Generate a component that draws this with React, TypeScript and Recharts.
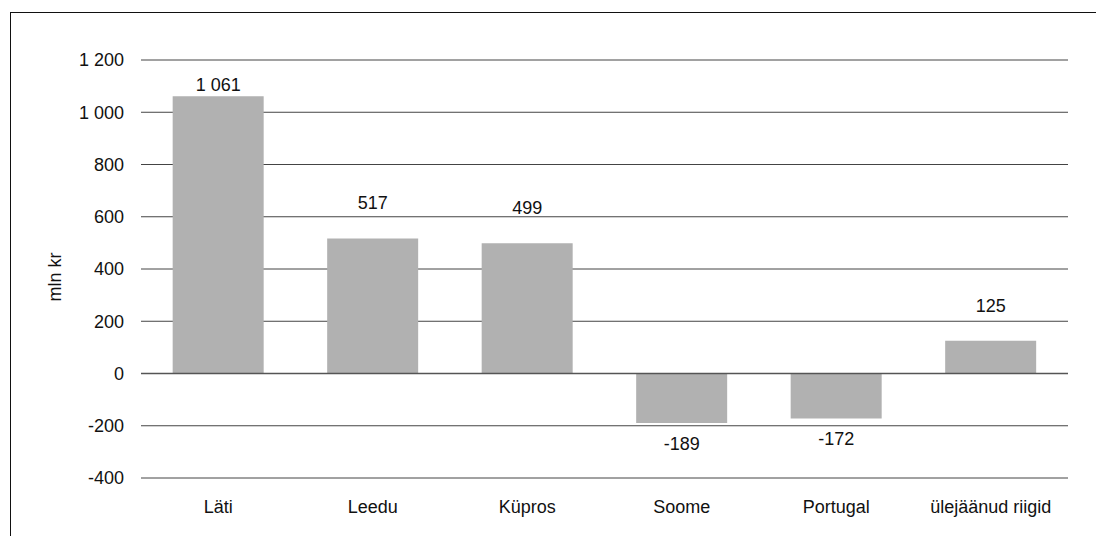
import React from 'react';
import { BarChart, Bar, XAxis, YAxis, CartesianGrid, ReferenceLine, LabelList } from 'recharts';

const countries = ['Läti', 'Leedu', 'Küpros', 'Soome', 'Portugal', 'ülejäänud riigid'];
const values = [1061, 517, 499, -189, -172, 125];
const yTicks = [-400, -200, 0, 200, 400, 600, 800, 1000, 1200];

const data = countries.map((name, i) => ({ name, value: values[i] }));

const FONT = '"Liberation Sans", Arial, Helvetica, sans-serif';
const fmt = (v: number) => String(v).replace(/\B(?=(\d{3})+(?!\d))/g, ' ');

function ValueLabel(props: any) {
  const { x, y, width, height, value } = props;
  const top = Math.min(y, y + height);
  const bottom = Math.max(y, y + height);
  let ty: number;
  if (value >= 0) {
    ty = top - 35;
    // keep the tallest label clear of the top gridline
    if (ty < 80) ty = top - 11;
  } else {
    ty = bottom + 21;
  }
  return (
    <text
      x={x + width / 2}
      y={ty}
      textAnchor="middle"
      dominantBaseline="central"
      fontSize={18}
      fontFamily={FONT}
      fill="#111"
    >
      {fmt(value)}
    </text>
  );
}

export default function App() {
  return (
    <div style={{ position: 'absolute', left: 0, top: 0, width: 1096, height: 536, overflow: 'hidden', background: '#fff' }}>
      <div
        style={{
          position: 'absolute',
          left: 10,
          top: 12,
          width: 1200,
          height: 600,
          borderLeft: '1px solid #111',
          borderTop: '1px solid #111',
        }}
      />
      <div style={{ position: 'absolute', left: 0, top: 0 }}>
        <BarChart
          width={1096}
          height={536}
          data={data}
          margin={{ top: 60, right: 28, left: 0, bottom: 0 }}
          barCategoryGap="20.5%"
        >
          <CartesianGrid horizontal vertical={false} stroke="#444" strokeWidth={1} />
          <XAxis
            dataKey="name"
            axisLine={false}
            tickLine={false}
            height={58}
            tickMargin={16}
            tick={{ fontSize: 18, fontFamily: FONT, fill: '#111' }}
            interval={0}
          />
          <YAxis
            domain={[-400, 1200]}
            ticks={yTicks}
            axisLine={false}
            tickLine={false}
            width={141}
            tickMargin={11}
            tickFormatter={fmt}
            tick={{ fontSize: 18, fontFamily: FONT, fill: '#111' }}
            label={{
              content: () => (
                <text
                  x={55}
                  y={277}
                  transform="rotate(-90 55 277)"
                  textAnchor="middle"
                  dominantBaseline="central"
                  fontSize={18}
                  fontFamily={FONT}
                  fill="#111"
                >
                  mln kr
                </text>
              ),
            }}
          />
          <Bar dataKey="value" fill="#b1b1b1" isAnimationActive={false}>
            <LabelList dataKey="value" content={ValueLabel} />
          </Bar>
          <ReferenceLine y={0} stroke="#555" strokeWidth={1.3} />
        </BarChart>
      </div>
    </div>
  );
}
